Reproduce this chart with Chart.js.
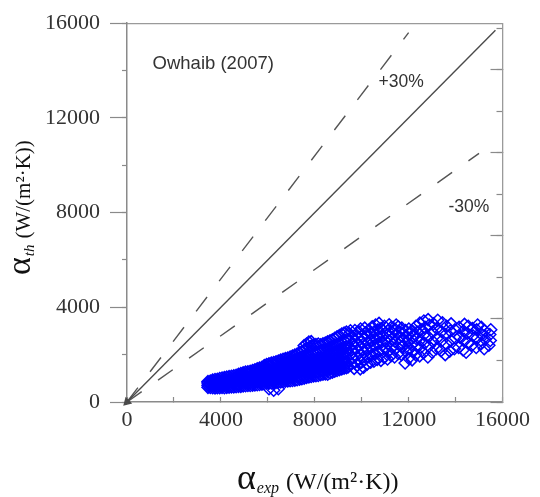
<!DOCTYPE html>
<html>
<head>
<meta charset="utf-8">
<script src="https://cdn.jsdelivr.net/npm/chart.js@4.4.0/dist/chart.umd.min.js"></script>
<style>
    html, body { margin: 0; padding: 0; background: #fff; }
</style>
</head>
<body>
<canvas id="corrChart" width="540" height="497"></canvas>
<script>
// axis tick values
var axisTicks = [0, 4000, 8000, 12000, 16000];

// reference lines (parity, +30%, -30%)
var parityX = [0, 15700];
var parityY = [0, 15700];
var plus30X = [0, 12000];
var plus30Y = [0, 15600];
var minus30X = [0, 15000];
var minus30Y = [0, 10500];

// Owhaib (2007) data, dense part read column by column: alpha_exp -> list of alpha_th
var denseExp = [3450, 3550, 3650, 3750, 3850, 3950, 4050, 4150, 4250, 4350, 4450, 4550, 4650, 4750,
    4850, 4950, 5050, 5150, 5250, 5350, 5450, 5550, 5650, 5750, 5850, 5950, 6050, 6150, 6250, 6350,
    6450, 6550, 6650, 6750, 6850, 6950, 7050, 7150, 7250, 7350, 7450, 7550, 7650, 7750, 7850, 7950,
    8050, 8150, 8250, 8350, 8450, 8550, 8650, 8750, 8850, 8950, 9050, 9150, 9250, 9350];
var denseTh = [
    [620, 710, 800, 860],
    [610, 700, 790, 880],
    [600, 690, 780, 870, 930],
    [590, 680, 770, 860, 950],
    [600, 690, 780, 870, 960],
    [600, 690, 790, 890, 990],
    [610, 700, 800, 900, 1010],
    [600, 700, 800, 910, 1030],
    [620, 720, 820, 930, 1050],
    [630, 730, 840, 950, 1070],
    [640, 740, 850, 960, 1090],
    [640, 750, 860, 980, 1110],
    [650, 760, 870, 990, 1130],
    [660, 770, 880, 1000, 1120, 1170],
    [660, 780, 890, 1010, 1130, 1200],
    [680, 790, 900, 1020, 1140, 1230],
    [690, 800, 920, 1040, 1160, 1260],
    [700, 810, 930, 1050, 1170, 1280],
    [700, 820, 940, 1070, 1190, 1300],
    [710, 830, 960, 1080, 1210, 1330],
    [720, 840, 970, 1100, 1230, 1360],
    [730, 850, 980, 1110, 1250, 1400],
    [740, 860, 990, 1130, 1270, 1430],
    [750, 870, 1000, 1140, 1290, 1470],
    [770, 890, 1020, 1160, 1310, 1460, 1540],
    [790, 910, 1040, 1180, 1330, 1480, 1580],
    [560, 800, 930, 1060, 1200, 1350, 1500, 1610],
    [810, 940, 1080, 1220, 1370, 1520, 1640],
    [500, 820, 950, 1090, 1240, 1390, 1540, 1670],
    [830, 960, 1100, 1250, 1400, 1560, 1700],
    [560, 840, 980, 1120, 1270, 1420, 1580, 1730],
    [850, 990, 1140, 1290, 1440, 1600, 1770],
    [860, 1000, 1150, 1300, 1460, 1620, 1800],
    [880, 1020, 1170, 1320, 1480, 1650, 1830],
    [890, 1030, 1190, 1350, 1510, 1680, 1860],
    [900, 1050, 1210, 1370, 1540, 1710, 1900],
    [910, 1060, 1220, 1390, 1560, 1740, 1940],
    [920, 1080, 1240, 1410, 1590, 1780, 1980],
    [940, 1090, 1260, 1440, 1620, 1810, 2030],
    [960, 1110, 1280, 1460, 1650, 1850, 2080],
    [980, 1140, 1310, 1490, 1680, 1890, 2130],
    [1010, 1170, 1340, 1520, 1710, 1930, 2190, 2380],
    [1040, 1190, 1360, 1540, 1740, 1960, 2250, 2450],
    [1060, 1220, 1390, 1570, 1770, 1990, 2300, 2530],
    [1080, 1240, 1410, 1600, 1800, 2030, 2360, 2550],
    [1100, 1260, 1430, 1620, 1820, 2060, 2400],
    [1110, 1270, 1450, 1640, 1850, 2090, 2430],
    [1120, 1290, 1470, 1660, 1870, 2120, 2450],
    [1150, 1310, 1490, 1690, 1900, 2150, 2420],
    [1170, 1330, 1510, 1710, 1930, 2180, 2460],
    [1190, 1360, 1540, 1740, 1960, 2210, 2490],
    [1170, 1380, 1570, 1770, 2000, 2260, 2540],
    [1230, 1400, 1590, 1800, 2040, 2300, 2580],
    [1260, 1440, 1630, 1840, 2080, 2350, 2630],
    [1300, 1470, 1660, 1870, 2120, 2400, 2690],
    [1330, 1500, 1690, 1910, 2160, 2440, 2750],
    [1360, 1540, 1730, 1950, 2200, 2490, 2810],
    [1400, 1570, 1770, 2000, 2250, 2540, 2870],
    [1430, 1610, 1810, 2040, 2300, 2600, 2910],
    [1450, 1640, 1850, 2080, 2340, 2640, 2950]
];

// sparse part, [alpha_exp, alpha_th]
var sparsePairs = [
    [9420, 1480], [9450, 1760], [9400, 2050], [9470, 2330], [9430, 2620], [9480, 2880], [9520, 3010],
    [9560, 1600], [9600, 1900], [9580, 2200], [9620, 2470], [9590, 2760],
    [9680, 1420], [9720, 1700], [9700, 2010], [9740, 2290], [9690, 2580], [9750, 2850], [9710, 3020],
    [9810, 1550], [9850, 1830], [9830, 2150], [9870, 2430], [9820, 2700], [9880, 2960],
    [9940, 1400], [9990, 1680], [9960, 1980], [10010, 2240], [9980, 2540], [10020, 2800], [9950, 3080],
    [10080, 1470], [10120, 1790], [10100, 2080], [10140, 2360], [10090, 2650], [10160, 2920], [10130, 3120],
    [10230, 1600], [10270, 1900], [10250, 2200], [10290, 2500], [10240, 2780], [10300, 3030],
    [10380, 1680], [10420, 1980], [10400, 2300], [10440, 2600], [10390, 2880], [10450, 3180],
    [10520, 1720], [10560, 2050], [10540, 2380], [10580, 2680], [10530, 2960], [10590, 3250],
    [10660, 1800], [10700, 2120], [10680, 2450], [10720, 2750], [10690, 3050], [10740, 3320],
    [10820, 1760], [10860, 2200], [10840, 2520], [10880, 2820], [10830, 3100],
    [10960, 1880], [11000, 2260], [10980, 2600], [11020, 2900], [10970, 3200],
    [11100, 1820], [11140, 2150], [11120, 2480], [11160, 2760], [11110, 3000], [11170, 3260],
    [11250, 1960], [11290, 2320], [11270, 2640], [11310, 2920], [11260, 3150],
    [11400, 1900], [11440, 2250], [11420, 2560], [11460, 2830], [11410, 3080], [11470, 3250],
    [11550, 2050], [11590, 2420], [11570, 2700], [11610, 2960], [11560, 3180],
    [11700, 2000], [11740, 2330], [11720, 2620], [11760, 2900], [11710, 3120],
    [11850, 1650], [11880, 2150], [11860, 2480], [11900, 2780], [11870, 3020],
    [12000, 1850], [12040, 2250], [12020, 2600], [12060, 2880], [12010, 3080],
    [12150, 1780], [12190, 2120], [12170, 2450], [12210, 2750], [12160, 3000],
    [12300, 2000], [12340, 2380], [12320, 2680], [12360, 2950], [12310, 3200],
    [12470, 1950], [12510, 2300], [12490, 2620], [12530, 3050], [12480, 3330],
    [12640, 2080], [12680, 2480], [12660, 2850], [12700, 3150], [12650, 3420],
    [12820, 1900], [12860, 2350], [12840, 2750], [12880, 3250], [12830, 3480],
    [13000, 2100], [13040, 2550], [13020, 2950], [13060, 3300],
    [13180, 2250], [13220, 2700], [13200, 3100], [13240, 3450],
    [13380, 2170], [13420, 2600], [13400, 2980], [13440, 3350],
    [13560, 2000], [13600, 2450], [13580, 2850], [13620, 3200],
    [13750, 2150], [13790, 2600], [13770, 3000], [13810, 3300],
    [13950, 2250], [13990, 2700], [13970, 3050],
    [14130, 2300], [14170, 2750], [14150, 3150],
    [14320, 2200], [14360, 2650], [14340, 3000], [14380, 3280],
    [14450, 2100], [14520, 2500], [14500, 2900], [14540, 3200],
    [14700, 2400], [14740, 2800], [14720, 3100],
    [14880, 2300], [14920, 2700], [14900, 3050], [14940, 3250],
    [15080, 2450], [15120, 2850], [15100, 3150],
    [15220, 2250], [15260, 2650], [15240, 3000],
    [15420, 2400], [15460, 2850], [15500, 3050], [15480, 2600]
];

var SERIF = '"Liberation Serif", "Times New Roman", serif';
var SANS = '"Liberation Sans", Arial, sans-serif';
var AXIS_GREY = '#8a8a8a';

function toPoints(xs, ys) {
    return xs.map(function (x, i) { return { x: x, y: ys[i] }; });
}

var scatterData = [];
denseExp.forEach(function (x, i) {
    denseTh[i].forEach(function (y) { scatterData.push({ x: x, y: y }); });
});
sparsePairs.forEach(function (p) { scatterData.push({ x: p[0], y: p[1] }); });

// text placed on the figure
var notes = [
    { text: 'Owhaib (2007)', x: 1090, y: 14300, size: 18.5 },
    { text: '+30%', x: 10720, y: 13500, size: 17.5 },
    { text: '-30%', x: 13700, y: 8230, size: 17.5 }
];

function drawRich(ctx, parts, cx, baseline) {
    var total = 0;
    parts.forEach(function (p) { ctx.font = p.font; p.w = ctx.measureText(p.text).width; total += p.w + (p.gap || 0); });
    var x = cx - total / 2;
    parts.forEach(function (p) {
        ctx.font = p.font;
        ctx.fillText(p.text, x, baseline + (p.dy || 0));
        x += p.w + (p.gap || 0);
    });
}

var figureText = {
    id: 'figureText',
    afterDraw: function (chart) {
        var ctx = chart.ctx, area = chart.chartArea, sx = chart.scales.x, sy = chart.scales.y;
        ctx.save();
        ctx.fillStyle = '#333';
        ctx.textAlign = 'left';
        ctx.textBaseline = 'middle';
        notes.forEach(function (n) {
            ctx.font = n.size + 'px ' + SANS;
            ctx.fillText(n.text, sx.getPixelForValue(n.x), sy.getPixelForValue(n.y));
        });

        ctx.fillStyle = '#111';
        ctx.textBaseline = 'alphabetic';
        drawRich(ctx, [
            { text: '\u03B1', font: '36px ' + SERIF, gap: 1 },
            { text: 'exp', font: 'italic 16px ' + SERIF, dy: 4, gap: 7 },
            { text: '(W/(m\u00B2\u00B7K))', font: '24px ' + SERIF }
        ], (area.left + area.right) / 2 + 3, 489);

        ctx.translate(30, (area.top + area.bottom) / 2 - 5);
        ctx.rotate(-Math.PI / 2);
        drawRich(ctx, [
            { text: '\u03B1', font: '34px ' + SERIF, gap: 1 },
            { text: 'th', font: 'italic 15px ' + SERIF, dy: 4, gap: 6 },
            { text: '(W/(m\u00B2\u00B7K))', font: '21px ' + SERIF }
        ], 0, 0);
        ctx.restore();
    }
};

var ctx = document.getElementById('corrChart').getContext('2d');
var corrChart = new Chart(ctx, {
    type: 'scatter',
    data: {
        datasets: [
            {
                type: 'line',
                data: toPoints(parityX, parityY),
                borderColor: '#4a4a4a',
                borderWidth: 1.4,
                pointRadius: [4, 0],
                pointStyle: 'triangle',
                rotation: 225,
                pointBackgroundColor: '#4a4a4a',
                pointBorderColor: '#4a4a4a',
                clip: false
            },
            {
                type: 'line',
                data: toPoints(plus30X, plus30Y),
                borderColor: '#555',
                borderWidth: 1.4,
                borderDash: [18, 20],
                pointRadius: 0
            },
            {
                type: 'line',
                data: toPoints(minus30X, minus30Y),
                borderColor: '#555',
                borderWidth: 1.4,
                borderDash: [18, 20],
                pointRadius: 0
            },
            {
                data: scatterData,
                pointStyle: 'rectRot',
                pointRadius: 6,
                borderWidth: 1.5,
                borderColor: '#0000ff',
                backgroundColor: 'rgba(0,0,0,0)'
            }
        ]
    },
    options: {
        responsive: false,
        devicePixelRatio: 1,
        animation: false,
        layout: {
            padding: { top: 19, right: 30, left: 0, bottom: 0 }
        },
        plugins: {
            legend: { display: false },
            tooltip: { enabled: false }
        },
        scales: {
            x: {
                type: 'linear',
                position: 'bottom',
                min: 0,
                max: 16000,
                ticks: {
                    stepSize: 2000,
                    autoSkip: false,
                    maxRotation: 0,
                    padding: 10,
                    color: '#333',
                    font: { family: SERIF, size: 22 },
                    callback: function (v) { return axisTicks.indexOf(v) >= 0 ? String(v) : ''; }
                },
                grid: { drawOnChartArea: false, tickLength: -5, tickColor: AXIS_GREY, tickWidth: 1.2 },
                border: { color: AXIS_GREY, width: 1.5 },
                afterFit: function (scale) { scale.height = 95; }
            },
            xTop: {
                type: 'linear',
                position: 'top',
                min: 0,
                max: 16000,
                ticks: { display: false },
                grid: { drawOnChartArea: false, drawTicks: false },
                border: { color: '#9a9a9a', width: 1.3 },
                afterFit: function (scale) { scale.height = 0; }
            },
            y: {
                type: 'linear',
                position: 'left',
                weight: 1,
                min: 0,
                max: 16000,
                ticks: {
                    stepSize: 4000,
                    padding: 10,
                    color: '#333',
                    font: { family: SERIF, size: 22 },
                    callback: function (v) { return String(v); }
                },
                grid: { drawOnChartArea: false, tickLength: 17, tickColor: AXIS_GREY, tickWidth: 1.2 },
                border: { color: AXIS_GREY, width: 1.5 },
                afterFit: function (scale) { scale.width = 127; }
            },
            yMinor: {
                type: 'linear',
                position: 'left',
                weight: 0,
                min: 0,
                max: 16000,
                ticks: { stepSize: 2000, display: false },
                grid: { drawOnChartArea: false, tickLength: 5, tickColor: AXIS_GREY, tickWidth: 1.2 },
                border: { display: false },
                afterFit: function (scale) { scale.width = 0; }
            },
            yR: {
                type: 'linear',
                position: 'right',
                min: 0,
                max: 9.12,
                ticks: { stepSize: 2, display: false, includeBounds: false },
                grid: { drawOnChartArea: false, tickLength: -12, tickColor: AXIS_GREY, tickWidth: 1.2 },
                border: { color: '#9a9a9a', width: 1.3 },
                afterFit: function (scale) { scale.width = 0; }
            },
            yRMinor: {
                type: 'linear',
                position: 'right',
                min: 0,
                max: 9.12,
                ticks: { stepSize: 1, display: false, includeBounds: false },
                grid: { drawOnChartArea: false, tickLength: -6, tickColor: AXIS_GREY, tickWidth: 1.2 },
                border: { display: false },
                afterFit: function (scale) { scale.width = 0; }
            }
        }
    },
    plugins: [figureText]
});
</script>
</body>
</html>
